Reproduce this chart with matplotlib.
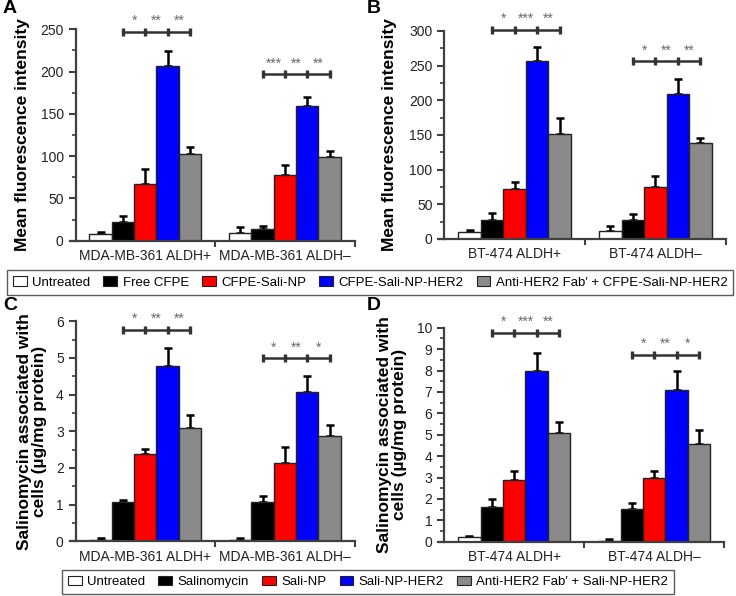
import matplotlib.pyplot as plt
from matplotlib.patches import Patch
from matplotlib.ticker import MultipleLocator, FixedLocator

plt.rcParams['font.family'] = ['Liberation Sans', 'DejaVu Sans']

# data
mda_groups = ["MDA-MB-361 ALDH+", "MDA-MB-361 ALDH\u2013"]
bt_groups = ["BT-474 ALDH+", "BT-474 ALDH\u2013"]

labels_top = ["Untreated", "Free CFPE", "CFPE-Sali-NP", "CFPE-Sali-NP-HER2",
              "Anti-HER2 Fab\u2032 + CFPE-Sali-NP-HER2"]
labels_bottom = ["Untreated", "Salinomycin", "Sali-NP", "Sali-NP-HER2",
                 "Anti-HER2 Fab\u2032 + Sali-NP-HER2"]
bar_colors = ['white', 'black', '#ff0000', '#0000ff', '#8a8a8a']

a_vals = [[8, 22, 67, 207, 102], [9, 14, 78, 159, 99]]
a_errs = [[2, 7, 18, 17, 9], [7, 4, 11, 11, 7]]
a_brackets = [247, 197]
a_stars = [["*", "**", "**"], ["***", "**", "**"]]

b_vals = [[10, 28, 72, 257, 152], [12, 28, 75, 209, 139]]
b_errs = [[3, 9, 10, 20, 22], [7, 8, 16, 22, 7]]
b_brackets = [302, 256]
b_stars = [["*", "***", "**"], ["*", "**", "**"]]

c_vals = [[0.02, 1.08, 2.38, 4.78, 3.08], [0.04, 1.06, 2.12, 4.06, 2.88]]
c_errs = [[0.08, 0.04, 0.13, 0.48, 0.37], [0.04, 0.16, 0.45, 0.45, 0.28]]
c_brackets = [5.77, 5.0]
c_stars = [["*", "**", "**"], ["*", "**", "*"]]

d_vals = [[0.2, 1.62, 2.88, 8.0, 5.1], [0.05, 1.52, 3.0, 7.1, 4.58]]
d_errs = [[0.05, 0.38, 0.42, 0.82, 0.5], [0.08, 0.3, 0.32, 0.9, 0.65]]
d_brackets = [9.77, 8.75]
d_stars = [["*", "***", "**"], ["*", "**", "*"]]

centers = [2.5, 7.5]
offsets = [-1.6, -0.8, 0, 0.8, 1.6]
width = 0.8


def draw(ax, groups, vals, errs, ymax, major, brackets, stars, ylabel, label_x):
    for g, c in enumerate(centers):
        xs = [c + o for o in offsets]
        ax.bar(xs, vals[g], width=width, color=bar_colors, edgecolor='#222222',
               linewidth=1.0, zorder=2)
        ax.errorbar(xs, vals[g], yerr=[[0] * 5, errs[g]], fmt='none',
                    ecolor='black', elinewidth=1.8, capsize=3, capthick=1.8, zorder=1)
        # significance bracket
        bx = xs[1:]
        yb = brackets[g]
        ax.plot([bx[0], bx[-1]], [yb, yb], color='#333333', lw=1.8,
                clip_on=False, zorder=3)
        ax.plot(bx, [yb] * 4, ls='none', marker='|', ms=6, mew=2.4,
                color='#333333', clip_on=False, zorder=3)
        for k in range(3):
            ax.annotate(stars[g][k], ((bx[k] + bx[k + 1]) / 2, yb),
                        xytext=(0, 2.5), textcoords='offset points',
                        ha='center', va='bottom', fontsize=10, color='#6a6a6a',
                        annotation_clip=False)
    ax.set_xlim(-0.2, 10)
    ax.set_ylim(0, ymax)
    ax.spines['left'].set_position(('data', 0))
    ax.yaxis.set_major_locator(MultipleLocator(major))
    ax.yaxis.set_minor_locator(MultipleLocator(major / 2))
    ax.set_xticks(centers)
    ax.set_xticklabels(groups)
    ax.xaxis.set_minor_locator(FixedLocator([5, 10]))
    ax.tick_params(axis='x', which='major', length=0, pad=6, labelsize=10,
                   colors='#222222')
    ax.tick_params(axis='x', which='minor', length=4, width=1.5, color='#404040')
    ax.tick_params(axis='y', which='major', length=5, width=1.5, labelsize=10,
                   color='#404040', labelcolor='#222222')
    ax.tick_params(axis='y', which='minor', length=3, width=1.2, color='#404040')
    for s in ['top', 'right']:
        ax.spines[s].set_visible(False)
    for s in ['left', 'bottom']:
        ax.spines[s].set_linewidth(1.6)
        ax.spines[s].set_color('#404040')
    ax.set_ylabel(ylabel, fontsize=12.5, fontweight='bold', linespacing=1.05)
    ax.yaxis.set_label_coords(label_x, 0.5)


fig = plt.figure(figsize=(7.36, 5.96), dpi=100)
ax_a = fig.add_axes([0.095, 0.596, 0.387, 0.355])
ax_b = fig.add_axes([0.596, 0.599, 0.390, 0.349])
ax_c = fig.add_axes([0.095, 0.092, 0.387, 0.369])
ax_d = fig.add_axes([0.596, 0.091, 0.388, 0.359])

draw(ax_a, mda_groups, a_vals, a_errs, 250, 50, a_brackets, a_stars,
     "Mean fluorescence intensity", -0.14)
draw(ax_b, bt_groups, b_vals, b_errs, 300, 50, b_brackets, b_stars,
     "Mean fluorescence intensity", -0.145)
draw(ax_c, mda_groups, c_vals, c_errs, 6, 1, c_brackets, c_stars,
     "Salinomycin associated with\ncells (\u00b5g/mg protein)", -0.08)
draw(ax_d, bt_groups, d_vals, d_errs, 10, 1, d_brackets, d_stars,
     "Salinomycin associated with\ncells (\u00b5g/mg protein)", -0.11)

for letter, x, y in [("A", 0.004, 0.985), ("B", 0.498, 0.985),
                     ("C", 0.004, 0.487), ("D", 0.498, 0.487)]:
    fig.text(x, y, letter, fontsize=14, fontweight='bold', va='center')

handles = [Patch(facecolor=c, edgecolor='#222222', linewidth=0.8) for c in bar_colors]

leg_kw = dict(loc='center', ncol=5, fontsize=9.5, frameon=True, fancybox=False,
              edgecolor='#333333', handlelength=1.05, handleheight=0.7,
              handletextpad=0.4, columnspacing=1.0, borderpad=0.45,
              borderaxespad=0)
leg1 = fig.legend(handles, labels_top, bbox_to_anchor=(0.503, 0.526), **leg_kw)
leg1.get_frame().set_linewidth(1.0)
leg2 = fig.legend(handles, labels_bottom, bbox_to_anchor=(0.500, 0.0235), **leg_kw)
leg2.get_frame().set_linewidth(1.0)

fig.savefig("out.png", dpi=100)
